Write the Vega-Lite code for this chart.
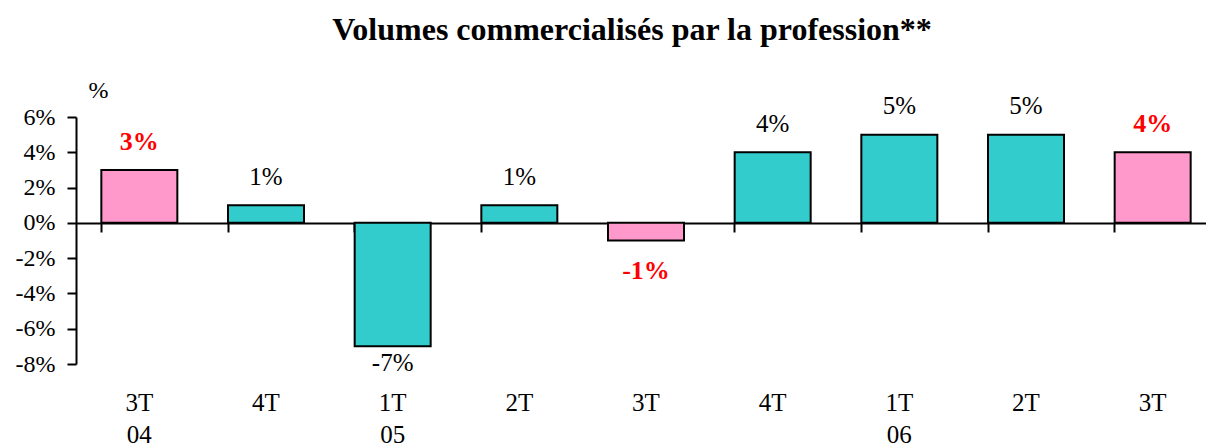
{
  "$schema": "https://vega.github.io/schema/vega-lite/v6.json",
  "autosize": "none",
  "width": 1130,
  "height": 247,
  "padding": {"left": 76, "top": 117, "right": 0, "bottom": 82},
  "background": "white",
  "config": {
    "view": {"stroke": null},
    "font": "'Liberation Serif', 'Times New Roman', Times, serif"
  },
  "title": {
    "text": "Volumes commercialisés par la profession**",
    "font": "'Liberation Serif', 'Times New Roman', Times, serif",
    "fontSize": 32,
    "fontWeight": "bold",
    "color": "black",
    "anchor": "middle",
    "frame": "group",
    "offset": 31,
    "dx": -9
  },
  "data": {
    "values": [
      {"periode": "3T-04", "valeur": 3, "mis_en_avant": true},
      {"periode": "4T-04", "valeur": 1, "mis_en_avant": false},
      {"periode": "1T-05", "valeur": -7, "mis_en_avant": false},
      {"periode": "2T-05", "valeur": 1, "mis_en_avant": false},
      {"periode": "3T-05", "valeur": -1, "mis_en_avant": true},
      {"periode": "4T-05", "valeur": 4, "mis_en_avant": false},
      {"periode": "1T-06", "valeur": 5, "mis_en_avant": false},
      {"periode": "2T-06", "valeur": 5, "mis_en_avant": false},
      {"periode": "3T-06", "valeur": 4, "mis_en_avant": true}
    ]
  },
  "transform": [
    {"calculate": "datum.valeur >= 0 ? datum.valeur + 1.6 : max(datum.valeur, -6.2) - 1.75", "as": "pos_etiquette"},
    {"calculate": "datum.valeur + '%'", "as": "etiquette"}
  ],
  "layer": [
    {
      "mark": {"type": "bar", "stroke": "black", "strokeWidth": 2},
      "encoding": {
        "x": {
          "field": "periode",
          "type": "nominal",
          "sort": null,
          "scale": {"range": [0, 1140], "paddingInner": 0.4, "paddingOuter": 0.2},
          "axis": {
            "title": null,
            "domain": false,
            "ticks": false,
            "labelAngle": 0,
            "labelPadding": 26,
            "labelFont": "'Liberation Serif', 'Times New Roman', Times, serif",
            "labelFontSize": 25,
            "labelColor": "black",
            "labelLineHeight": 32,
            "labelBaseline": "top",
            "labelExpr": "(datum.value == '3T-04' || datum.value == '1T-05' || datum.value == '1T-06') ? split(datum.value, '-') : split(datum.value, '-')[0]"
          }
        },
        "y": {
          "field": "valeur",
          "type": "quantitative",
          "scale": {"domain": [-8, 6], "nice": false, "zero": false},
          "axis": {
            "values": [-8, -6, -4, -2, 0, 2, 4, 6],
            "labelExpr": "datum.value + '%'",
            "labelOverlap": false,
            "grid": false,
            "domainColor": "black",
            "domainWidth": 2,
            "tickColor": "black",
            "tickWidth": 2,
            "tickSize": 9,
            "labelPadding": 12,
            "labelFont": "'Liberation Serif', 'Times New Roman', Times, serif",
            "labelFontSize": 24,
            "labelColor": "black",
            "title": "%",
            "titleAngle": 0,
            "titleFont": "'Liberation Serif', 'Times New Roman', Times, serif",
            "titleFontSize": 24,
            "titleFontWeight": "normal",
            "titleColor": "black",
            "titleX": 22,
            "titleY": -27,
            "titleAlign": "center",
            "titleBaseline": "middle"
          }
        },
        "fill": {
          "field": "mis_en_avant",
          "type": "nominal",
          "scale": {"domain": [true, false], "range": ["#FF99CC", "#33CCCC"]},
          "legend": null
        }
      }
    },
    {
      "transform": [{"filter": "!datum.mis_en_avant"}],
      "mark": {"type": "text", "font": "'Liberation Serif', 'Times New Roman', Times, serif", "fontSize": 25, "color": "black", "baseline": "middle", "align": "center"},
      "encoding": {
        "x": {
          "field": "periode",
          "type": "nominal",
          "sort": null,
          "axis": {
            "orient": "bottom",
            "offset": -141,
            "title": null,
            "labels": false,
            "domain": true,
            "domainColor": "black",
            "domainWidth": 2,
            "ticks": true,
            "bandPosition": 0,
            "tickColor": "black",
            "tickWidth": 2,
            "tickSize": 9
          }
        },
        "y": {"field": "pos_etiquette", "type": "quantitative", "axis": null},
        "text": {"field": "etiquette"}
      }
    },
    {
      "transform": [{"filter": "datum.mis_en_avant"}],
      "mark": {"type": "text", "font": "'Liberation Serif', 'Times New Roman', Times, serif", "fontSize": 26, "fontWeight": "bold", "color": "#FF0000", "baseline": "middle", "align": "center"},
      "encoding": {
        "x": {"field": "periode", "type": "nominal", "sort": null, "axis": null},
        "y": {"field": "pos_etiquette", "type": "quantitative", "axis": null},
        "text": {"field": "etiquette"}
      }
    }
  ],
  "resolve": {"axis": {"x": "independent", "y": "independent"}}
}
